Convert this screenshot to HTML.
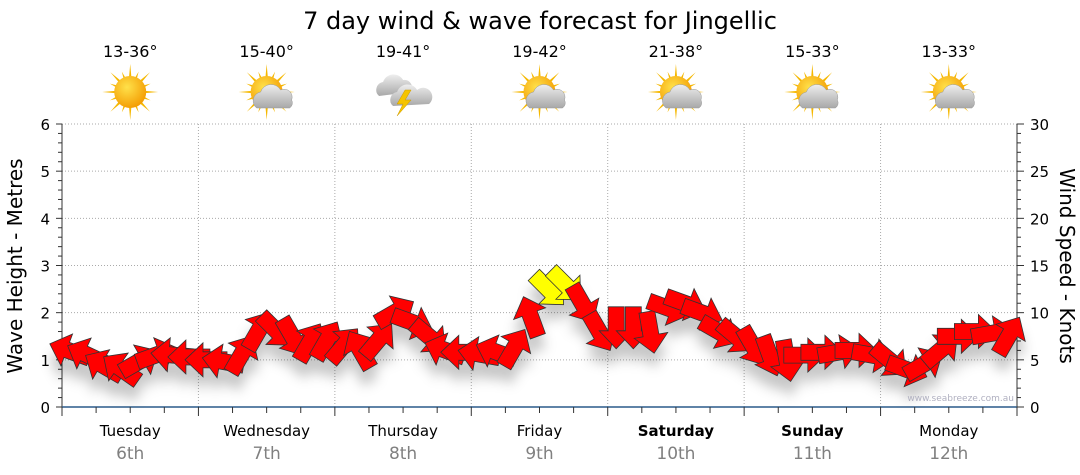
<!DOCTYPE html>
<html><head><meta charset="utf-8"><style>
body{margin:0;background:#fff;}
svg{display:block;font-family:"DejaVu Sans","Liberation Sans",sans-serif;}
</style></head><body>
<svg id="chart" width="1080" height="475" viewBox="0 0 1080 475" xmlns="http://www.w3.org/2000/svg">
<defs>
<radialGradient id="sunG" cx="0.4" cy="0.35" r="0.7"><stop offset="0" stop-color="#ffe14a"/><stop offset="1" stop-color="#f39a00"/></radialGradient>
<linearGradient id="cloudG" x1="0" y1="0" x2="0" y2="1"><stop offset="0" stop-color="#eeeeee"/><stop offset="1" stop-color="#a8a8a8"/></linearGradient>
<filter id="shadow" x="-50%" y="-50%" width="200%" height="200%"><feDropShadow dx="0" dy="14" stdDeviation="6" flood-color="#000" flood-opacity="0.22"/></filter>
</defs>
<text x="540" y="29" text-anchor="middle" font-size="24" fill="#000">7 day wind &amp; wave forecast for Jingellic</text>
<g id="grid"></g>
<g id="axes"></g>
<g id="icons"></g>
<g id="arrows" filter="url(#shadow)"></g>
<text transform="translate(22,266) rotate(-90)" text-anchor="middle" font-size="20" fill="#000">Wave Height - Metres</text>
<text transform="translate(1060,266) rotate(90)" text-anchor="middle" font-size="20" fill="#000">Wind Speed - Knots</text>
<text x="1014" y="401" text-anchor="end" font-size="9" fill="#b0b0c0">www.seabreeze.com.au</text>
</svg>
<script>
const days = ["Tuesday","Wednesday","Thursday","Friday","Saturday","Sunday","Monday"];
const dates = ["6th","7th","8th","9th","10th","11th","12th"];
const temps = ["13-36°","15-40°","19-41°","19-42°","21-38°","15-33°","13-33°"];
const icons = ["sun","partly","storm","partly","partly","partly","partly"];
const boldDays = [false,false,false,false,true,true,false];
const waveTicks = [0,1,2,3,4,5,6];
const windTicks = [0,5,10,15,20,25,30];
const windSpeed = [5.9,5.5,4.3,4.0,4.8,5.5,5.5,5.3,
 5.0,4.8,5.5,8.0,8.2,7.5,6.8,7.0,
 6.5,6.0,7.0,10.0,9.0,7.5,6.0,5.8,
 5.6,5.8,6.2,9.5,12.5,13.0,11.0,8.0,
 8.5,8.5,8.0,10.5,11.0,10.0,8.0,7.5,
 6.5,5.5,5.0,5.5,5.8,5.8,6.0,5.5,
 5.0,4.0,4.5,6.0,7.5,8.0,7.8,7.5];
const windDir = [200,205,210,215,330,340,185,180,
 180,190,300,300,45,60,300,300,
 310,240,310,330,20,40,200,180,
 190,200,300,250,45,45,60,60,
 90,90,80,20,20,20,30,40,
 60,70,80,0,0,350,0,10,
 40,20,330,320,0,0,350,300];
const yellowIdx = [28,29];

const NS="http://www.w3.org/2000/svg";
const X0=62,X1=1017,Y0=407,YT=124;
const dayW=(X1-X0)/7;
const yWave=v=>Y0-(Y0-YT)*v/6;
const yWind=v=>Y0-(Y0-YT)*v/30;
const xIdx=i=>X0+(i+0.5)*dayW/8;
function mk(tag,attrs,parent){const e=document.createElementNS(NS,tag);for(const k in attrs)e.setAttribute(k,attrs[k]);parent.appendChild(e);return e;}
const grid=document.getElementById('grid'),axes=document.getElementById('axes'),icG=document.getElementById('icons'),arG=document.getElementById('arrows');

waveTicks.forEach(v=>{
 if(v>0){const l=mk('line',{x1:X0,x2:X1,y1:yWave(v),y2:yWave(v),stroke:'#aaa','stroke-dasharray':'1,2'},grid);
 }
 const t=mk('text',{x:50,y:yWave(v)+6,'text-anchor':'end','font-size':15,fill:'#000'},axes);t.textContent=v;
 
});
for(let k=0;k<=30;k++){const y=Y0-(Y0-YT)*k/30;mk('line',{x1:X0-(k%5==0?6:4),x2:X0,y1:y,y2:y,stroke:'#333'},axes);}
windTicks.forEach(v=>{
 const t=mk('text',{x:1030,y:yWind(v)+6,'font-size':15,fill:'#000'},axes);t.textContent=v;
 
});
for(let k=0;k<=30;k++){const y=yWind(k);mk('line',{x1:X1,x2:X1+(k%5==0?7:4),y1:y,y2:y,stroke:'#333'},axes);}
for(let d=1;d<7;d++){const x=X0+d*dayW;const l=mk('line',{x1:x,x2:x,y1:YT,y2:Y0,stroke:'#aaa','stroke-dasharray':'1,2'},grid);
 }
mk('line',{x1:X0,x2:X0,y1:YT,y2:Y0,stroke:'#333'},axes);
mk('line',{x1:X1,x2:X1,y1:YT,y2:Y0,stroke:'#333'},axes);
const xa=mk('line',{x1:X0,x2:X1,y1:Y0,y2:Y0,stroke:'#2a5a8a','stroke-width':1.5},axes);

for(let k=0;k<=28;k++){const x=X0+k*dayW/4;mk('line',{x1:x,x2:x,y1:Y0,y2:Y0+(k%4==0?9:6),stroke:'#333'},axes);}

days.forEach((d,i)=>{
 const cx=X0+(i+0.5)*dayW;
 const t=mk('text',{x:cx,y:436,'text-anchor':'middle','font-size':15,fill:'#000','font-weight':boldDays[i]?'bold':'normal'},axes);t.textContent=d;
 
 const t2=mk('text',{x:cx,y:459,'text-anchor':'middle','font-size':17,fill:'#808080'},axes);t2.textContent=dates[i];
 
 const t3=mk('text',{x:cx,y:57,'text-anchor':'middle','font-size':16,fill:'#000'},icG);t3.textContent=temps[i];
 
 const g=mk('g',{transform:`translate(${cx},${92})`},icG);
 
 if(icons[i]!=='storm'){
  for(let r=0;r<16;r++){const a=r*Math.PI/8,L=r%2?22:28;
   mk('polygon',{points:`${Math.cos(a-0.12)*12},${Math.sin(a-0.12)*12} ${Math.cos(a)*L},${Math.sin(a)*L} ${Math.cos(a+0.12)*12},${Math.sin(a+0.12)*12}`,fill:'#f5b800'},g);}
  mk('circle',{cx:0,cy:0,r:16,fill:'url(#sunG)'},g);
 }
 if(icons[i]==='partly'){
  mk('path',{d:'M-10,16 a9,9 0 0 1 4,-16 a11,11 0 0 1 20,-2 a8,8 0 0 1 11,10 a6,6 0 0 1 -2,8 z',fill:'url(#cloudG)',stroke:'#999','stroke-width':0.5},g);
 }
 if(icons[i]==='storm'){
  mk('path',{d:'M-24,4 a8,8 0 0 1 4,-14 a11,11 0 0 1 20,-2 a8,8 0 0 1 8,12 z',fill:'url(#cloudG)'},g);
  mk('path',{d:'M-10,14 a8,8 0 0 1 4,-14 a11,11 0 0 1 20,-2 a8,8 0 0 1 12,14 z',fill:'url(#cloudG)'},g);
  mk('polygon',{points:'2,-2 -6,12 0,12 -6,24 8,8 2,8 8,-2',fill:'#f5c400',stroke:'#c90','stroke-width':0.5},g);
 }
});

windSpeed.forEach((v,i)=>{
 const cx=xIdx(i),cy=yWind(v);
 const yel=yellowIdx.includes(i);
 const p=mk('polygon',{points:'-20,-8 4,-8 4,-17 22,0 4,17 4,8 -20,8',fill:yel?'#ffff00':'#ff0000',stroke:'#333','stroke-width':0.8,
  transform:`translate(${cx.toFixed(1)},${cy.toFixed(1)}) rotate(${windDir[i]})`},arG);
 
 
});
</script>
</body></html>
